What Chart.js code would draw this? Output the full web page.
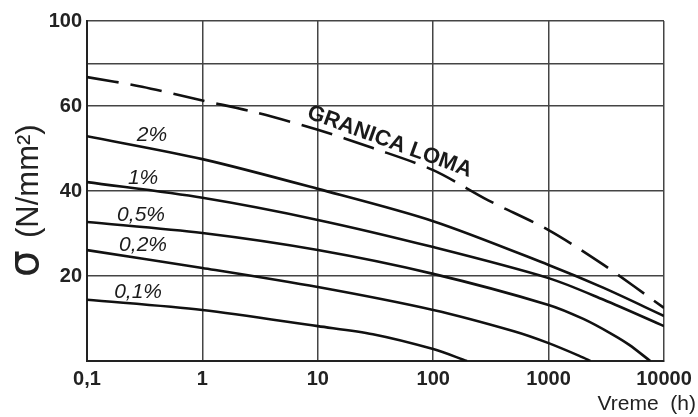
<!DOCTYPE html>
<html>
<head>
<meta charset="utf-8">
<script src="https://cdn.jsdelivr.net/npm/chart.js@4.4.1/dist/chart.umd.min.js"></script>
<style>
  html, body { margin: 0; padding: 0; background: #fff; }
  canvas { display: block; }
</style>
</head>
<body>
<canvas id="chart" width="698" height="417"></canvas>
<script>
// tick labels
const xTicks = [0.1, 1, 10, 100, 1000, 10000]
const yTicks = [0, 20, 40, 60, 80, 100]

// granica loma (dashed)
const limitTime = [0.1, 0.3, 1, 3, 10, 30, 100, 300, 1000, 3000, 10000]
const limitStress = [73.6, 69.1, 62.6, 58.4, 54.4, 50.1, 44.9, 37.8, 30.8, 22.6, 12.5]

// creep curves
const time2 = [0.1, 1, 10, 100, 1000, 3000, 10000]
const stress2 = [52.9, 47.5, 40.5, 32.9, 22.6, 17.2, 10.6]
const time1 = [0.1, 1, 10, 100, 1000, 3000, 10000]
const stress1 = [42.1, 38.4, 33.2, 26.8, 19.5, 14.4, 8.2]
const time05 = [0.1, 1, 10, 100, 1000, 2000, 3500, 5000, 7600]
const stress05 = [32.7, 30.1, 26.1, 20.5, 13.2, 9.9, 6.4, 3.8, 0]
const time02 = [0.1, 1, 10, 100, 500, 1000, 2000, 2300]
const stress02 = [26.1, 21.9, 17.4, 12.0, 7.0, 4.2, 0.8, 0]
const time01 = [0.1, 1, 10, 30, 100, 196]
const stress01 = [14.4, 12.0, 8.2, 6.3, 2.8, 0]

const curveNames = ['2%', '1%', '0,5%', '0,2%', '0,1%']

// where the curve names sit (data coords)
const nameAt = [
  { x: 0.366, y: 53.2 },
  { x: 0.306, y: 43.1 },
  { x: 0.294, y: 34.4 },
  { x: 0.306, y: 27.3 },
  { x: 0.277, y: 16.2 },
]

const pts = (xs, ys) => xs.map((x, i) => ({ x: x, y: ys[i] }))

// y axis in the picture: 0..60 takes 3/4 of the height, 60..100 the rest
class SplitScale extends Chart.LinearScale {
  getPixelForValue(value) {
    const d = value <= 60 ? value / 60 * 0.75 : 0.75 + (value - 60) / 40 * 0.25
    return this.getPixelForDecimal(d)
  }
  getValueForPixel(pixel) {
    const d = this.getDecimalForPixel(pixel)
    return d <= 0.75 ? d / 0.75 * 60 : 60 + (d - 0.75) / 0.25 * 40
  }
}
SplitScale.id = 'split'
SplitScale.defaults = Chart.LinearScale.defaults
Chart.register(SplitScale)

const textPlugin = {
  id: 'texts',
  afterDatasetsDraw(chart) {
    const ctx = chart.ctx
    const x = chart.scales.x
    const y = chart.scales.y
    ctx.save()
    ctx.fillStyle = '#1a1a1a'
    ctx.textAlign = 'center'
    ctx.textBaseline = 'middle'
    ctx.font = 'italic 21px "Liberation Sans", Arial, sans-serif'
    curveNames.forEach((name, i) => {
      ctx.fillText(name, x.getPixelForValue(nameAt[i].x), y.getPixelForValue(nameAt[i].y))
    })

    // GRANICA LOMA along the dashed line
    ctx.save()
    ctx.translate(x.getPixelForValue(42), y.getPixelForValue(51.6))
    ctx.rotate(20 * Math.PI / 180)
    ctx.font = 'bold 22px "Liberation Sans", Arial, sans-serif'
    ctx.fillText('GRANICA LOMA', 0, 0)
    ctx.restore()

    // x title
    ctx.textAlign = 'right'
    ctx.textBaseline = 'middle'
    ctx.font = '21px "Liberation Sans", Arial, sans-serif'
    ctx.fillStyle = '#222'
    ctx.fillText('Vreme  (h)', 696, 404)

    // y title
    ctx.save()
    ctx.translate(38, 277)
    ctx.rotate(-Math.PI / 2)
    ctx.textAlign = 'left'
    ctx.textBaseline = 'alphabetic'
    ctx.font = '42px "DejaVu Sans", sans-serif'
    ctx.fillText('σ', 0, 0)
    ctx.font = '31px "Liberation Sans", Arial, sans-serif'
    ctx.fillText('(N/mm²)', 39, 0)
    ctx.restore()

    ctx.restore()
  },
}

const curve = (xs, ys) => ({
  data: pts(xs, ys),
  borderColor: '#111',
  borderWidth: 2.6,
  pointRadius: 0,
  tension: 0.3,
  fill: false,
})

new Chart(document.getElementById('chart'), {
  type: 'line',
  data: {
    datasets: [
      Object.assign(curve(limitTime, limitStress), { borderDash: [32, 12] }),
      curve(time2, stress2),
      curve(time1, stress1),
      curve(time05, stress05),
      curve(time02, stress02),
      curve(time01, stress01),
    ],
  },
  options: {
    responsive: false,
    animation: false,
    devicePixelRatio: 1,
    layout: { padding: { top: 21, right: 34, bottom: 0, left: 0 } },
    plugins: { legend: { display: false }, tooltip: { enabled: false } },
    scales: {
      x: {
        type: 'logarithmic',
        min: 0.1,
        max: 10000,
        afterBuildTicks: (s) => { s.ticks = xTicks.map(v => ({ value: v })) },
        afterFit: (s) => { s.height = 56 },
        grid: { color: '#444', lineWidth: 1.5, drawTicks: false },
        border: { color: '#222', width: 2 },
        ticks: {
          autoSkip: false,
          maxRotation: 0,
          padding: 6,
          color: '#222',
          font: { family: '"Liberation Sans", Arial, sans-serif', size: 20, weight: 'bold' },
          callback: (v) => v === 0.1 ? '0,1' : String(v),
        },
      },
      y: {
        type: 'split',
        min: 0,
        max: 100,
        afterBuildTicks: (s) => { s.ticks = yTicks.map(v => ({ value: v })) },
        afterFit: (s) => { s.width = 87 },
        grid: { color: '#444', lineWidth: 1.5, drawTicks: false },
        border: { color: '#222', width: 2 },
        ticks: {
          padding: 5,
          color: '#222',
          font: { family: '"Liberation Sans", Arial, sans-serif', size: 20, weight: 'bold' },
          callback: (v) => (v === 0 || v === 80) ? '' : String(v),
        },
      },
    },
  },
  plugins: [textPlugin],
})
</script>
</body>
</html>
